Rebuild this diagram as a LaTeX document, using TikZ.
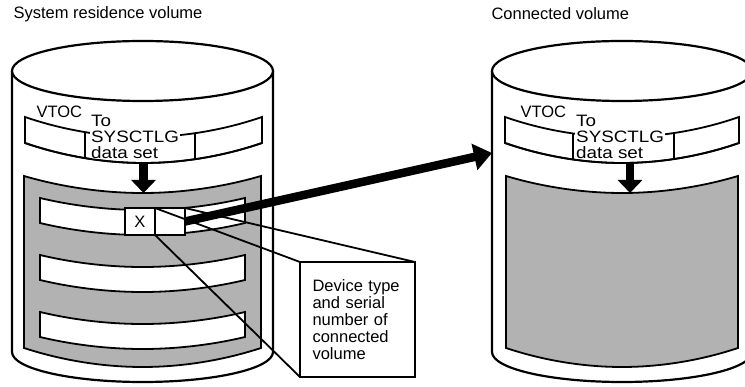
\documentclass[tikz,border=0pt]{standalone}
\usepackage{fontspec}
\setmainfont{Liberation Sans}
\newfontfamily\widesans[FakeStretch=1.14]{Liberation Sans}
\usetikzlibrary{arrows.meta,positioning}

\tikzset{
  outline/.style={draw=black,line width=1.8pt},
  drum/.style={draw=black,line width=2.2pt,fill=white},
  halftone/.style={fill=black!30},
  entry/.style={draw=black,line width=1.8pt,fill=white,minimum width=30pt,minimum height=27pt,inner sep=0pt,outer sep=0pt},
  catalog/.style={anchor=north west,align=left,fill=white,inner xsep=1pt,inner ysep=0pt,font=\widesans\fontsize{16.5}{16.2}\selectfont},
  fat arrow/.style={line width=8.5pt,-{Triangle[length=13pt,width=24pt]}},
}

\begin{document}
\begin{tikzpicture}[x=1pt,y=-1pt,font=\fontsize{16.5}{16.5}\selectfont]

		\useasboundingbox (0,0) rectangle (745,387);
		\clip (0,0) rectangle (745,387);

		\node[anchor=base west] (SysResTitle) at (10,19) {System residence volume};
		\node[anchor=base west] (ConnTitle) at (488,20) {Connected volume};

		%%% System residence volume
		\draw[drum] (12,71) -- (12,352) arc (180:0:130.5 and 30) -- (273,71);
		\draw[drum] (142.5,71) ellipse (130.5 and 30);

		\draw[outline,fill=white] (25,117) parabola bend (143.5,137) (262,117) -- (262,143) parabola bend (143.5,163) (25,143) -- cycle;
		\draw[outline] (85,132) -- (85,158) (195,133) -- (195,159);
		\node[anchor=base west] (VTOCSys) at (33,118) {VTOC};
		\node[catalog] (CatSys) at (90,115) {To\\SYSCTLG\\data set};
		\draw[outline] (262,143) parabola bend (143.5,163) (25,143);

		\draw[outline,halftone] (24,176) parabola bend (142.5,193) (261,176) -- (261,348) parabola bend (142.5,367) (24,348) -- cycle;
		\foreach \y in {198,255,312}
			\draw[outline,fill=white] (40,\y) parabola bend (142.5,\y+12) (245,\y) -- (245,\y+25) parabola bend (142.5,\y+37) (40,\y+25) -- cycle;

		\coordinate (VTOCSysOut) at (143.5,163);
		\coordinate (CatSysIn) at (143.5,193);
		\draw[fat arrow] (VTOCSysOut) -- (CatSysIn);

		\node[entry] (XEntry) at (140,221.5) {X};
		\node[entry,right=0pt of XEntry] (PtrEntry) {};

		\node[outline,fill=white,minimum size=115pt,text width=90pt,align=left,inner xsep=12.5pt,outer sep=0pt,font=\fontsize{16.5}{17}\selectfont] (DevInfo) at (357.5,319.5) {Device type\\and serial\\number of\\connected\\volume};

		\draw[outline] (XEntry.north east) -- (DevInfo.north west);
		\draw[outline] (PtrEntry.north east) -- (DevInfo.north east);
		\draw[outline] (XEntry.south east) -- (DevInfo.south west);

		%%% Connected volume
		\draw[drum] (492,71) -- (492,352) arc (180:0:130 and 30) -- (752,71);
		\draw[drum] (622,71) ellipse (130 and 30);

		\draw[outline,fill=white] (505,117) parabola bend (622,137) (739,117) -- (739,143) parabola bend (622,163) (505,143) -- cycle;
		\draw[outline] (573,133.5) -- (573,159.5) (674,133) -- (674,159);
		\node[anchor=base west] (VTOCConn) at (517,118) {VTOC};
		\node[catalog] (CatConn) at (575,115) {To\\SYSCTLG\\data set};
		\draw[outline] (739,143) parabola bend (622,163) (505,143);

		\draw[outline,halftone] (506,176) parabola bend (622,193) (738,176) -- (738,348) parabola bend (622,367) (506,348) -- cycle;

		\coordinate (VTOCConnOut) at (630,162);
		\coordinate (CatConnIn) at (630,193);
		\draw[fat arrow] (VTOCConnOut) -- (CatConnIn);

		%%% pointer to the connected volume
		\coordinate (ConnEdge) at (492,153);
		\draw[line width=8.5pt,-{Triangle[length=18pt,width=26pt]}] (PtrEntry.east) -- (ConnEdge);

\end{tikzpicture}
\end{document}
